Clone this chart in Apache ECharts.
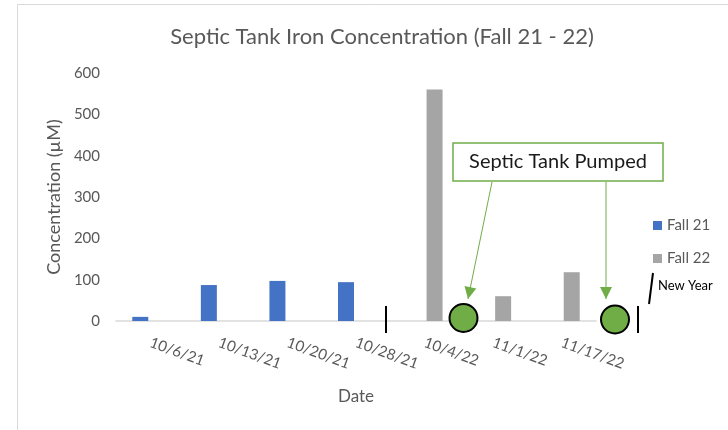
<!DOCTYPE html>
<html>
<head>
<meta charset="utf-8">
<script src="https://cdn.jsdelivr.net/npm/echarts@6/dist/echarts.min.js"></script>
<style>
html,body{margin:0;padding:0;background:#fff;}
#chart{width:728px;height:430px;}
</style>
</head>
<body>
<div id="chart"></div>
<script>
const categories = ['10/6/21','10/13/21','10/20/21','10/28/21','10/4/22','11/1/22','11/17/22'];
const fall21 = [10, 87, 97, 94, null, null, null];
const fall22 = [null, null, null, null, 560, 60, 118];
const yTicks = [0, 100, 200, 300, 400, 500, 600];

const FONT = 'Lato';
const TXT = '#595959';
const GREEN = '#70AD47';

function arrowHead(sx, sy, tx, ty, len, half) {
  const dx = tx - sx, dy = ty - sy;
  const L = Math.hypot(dx, dy);
  const ux = dx / L, uy = dy / L;
  const bx = tx - ux * len, by = ty - uy * len;
  const nx = -uy, ny = ux;
  return [[tx, ty], [bx + nx * half, by + ny * half], [bx - nx * half, by - ny * half]];
}

const chart = echarts.init(document.getElementById('chart'), null, {renderer: 'canvas'});
const option = {
  animation: false,
  backgroundColor: '#fff',
  textStyle: {fontFamily: FONT},
  title: {
    text: 'Septic Tank Iron Concentration (Fall 21 - 22)',
    left: 377,
    textAlign: 'center',
    top: 21,
    textStyle: {color: TXT, fontSize: 22, fontWeight: 'normal', fontFamily: FONT}
  },
  legend: {
    orient: 'vertical',
    left: 648,
    top: 213,
    itemWidth: 9,
    itemHeight: 9,
    itemGap: 18,
    icon: 'rect',
    textStyle: {color: TXT, fontSize: 15, fontFamily: FONT},
    data: ['Fall 21', 'Fall 22']
  },
  grid: {left: 116, right: 132, top: 73, bottom: 109, containLabel: false},
  xAxis: {
    type: 'category',
    data: categories,
    name: 'Date',
    nameLocation: 'middle',
    nameGap: 67,
    nameTextStyle: {color: TXT, fontSize: 17, fontFamily: FONT},
    axisLine: {lineStyle: {color: '#D9D9D9', width: 1.5}},
    axisTick: {show: false},
    axisLabel: {rotate: -20, interval: 0, color: TXT, fontSize: 15, margin: 21, fontFamily: FONT}
  },
  yAxis: {
    type: 'value',
    min: yTicks[0],
    max: yTicks[yTicks.length - 1],
    interval: 100,
    name: 'Concentration (µM)',
    nameLocation: 'middle',
    nameGap: 48,
    nameTextStyle: {color: TXT, fontSize: 18, fontFamily: FONT},
    axisLine: {show: false},
    axisTick: {show: false},
    splitLine: {show: false},
    axisLabel: {color: TXT, fontSize: 15, margin: 16, fontFamily: FONT}
  },
  series: [
    {name: 'Fall 21', type: 'bar', data: fall21, barWidth: 16, barGap: '25%', itemStyle: {color: '#4472C4'}},
    {name: 'Fall 22', type: 'bar', data: fall22, barWidth: 16, barGap: '25%', itemStyle: {color: '#A5A5A5'}}
  ]
};
chart.setOption(option);

const a1 = {sx: 492, sy: 182, tx: 468, ty: 299};
const a2 = {sx: 606, sy: 182, tx: 606, ty: 299};
const graphics = [
  {type: 'rect', shape: {x: 17.5, y: 4.5, width: 800, height: 800}, style: {fill: 'none', stroke: '#D9D9D9', lineWidth: 1}, z: 1, silent: true},
  {type: 'line', shape: {x1: 386, y1: 306, x2: 386, y2: 333}, style: {stroke: '#000', lineWidth: 2}, z: 100},
  {type: 'line', shape: {x1: 638, y1: 306, x2: 638, y2: 333}, style: {stroke: '#000', lineWidth: 2}, z: 100},
  {type: 'circle', shape: {cx: 463.5, cy: 318, r: 14}, style: {fill: GREEN, stroke: '#000', lineWidth: 2}, z: 100},
  {type: 'circle', shape: {cx: 615, cy: 319.5, r: 14}, style: {fill: GREEN, stroke: '#000', lineWidth: 2}, z: 100},
  {type: 'rect', shape: {x: 453, y: 143, width: 210, height: 38}, style: {fill: '#fff', stroke: GREEN, lineWidth: 1.5}, z: 100},
  {type: 'text', x: 558, y: 162, style: {text: 'Septic Tank Pumped', fill: '#1a1a1a', font: '20px ' + FONT, textAlign: 'center', textVerticalAlign: 'middle'}, z: 101},
  {type: 'line', shape: {x1: a1.sx, y1: a1.sy, x2: a1.tx, y2: a1.ty}, style: {stroke: GREEN, lineWidth: 1}, z: 100},
  {type: 'polygon', shape: {points: arrowHead(a1.sx, a1.sy, a1.tx, a1.ty, 12, 6)}, style: {fill: GREEN}, z: 100},
  {type: 'line', shape: {x1: a2.sx, y1: a2.sy, x2: a2.tx, y2: a2.ty}, style: {stroke: GREEN, lineWidth: 1}, z: 100},
  {type: 'polygon', shape: {points: arrowHead(a2.sx, a2.sy, a2.tx, a2.ty, 12, 6)}, style: {fill: GREEN}, z: 100},
  {type: 'line', shape: {x1: 653, y1: 273, x2: 649, y2: 304}, style: {stroke: '#000', lineWidth: 2}, z: 100},
  {type: 'text', x: 658, y: 286, style: {text: 'New Year', fill: '#000', font: '13px ' + FONT, textAlign: 'left', textVerticalAlign: 'middle'}, z: 100}
];
chart.setOption({graphic: graphics});
</script>
</body>
</html>
